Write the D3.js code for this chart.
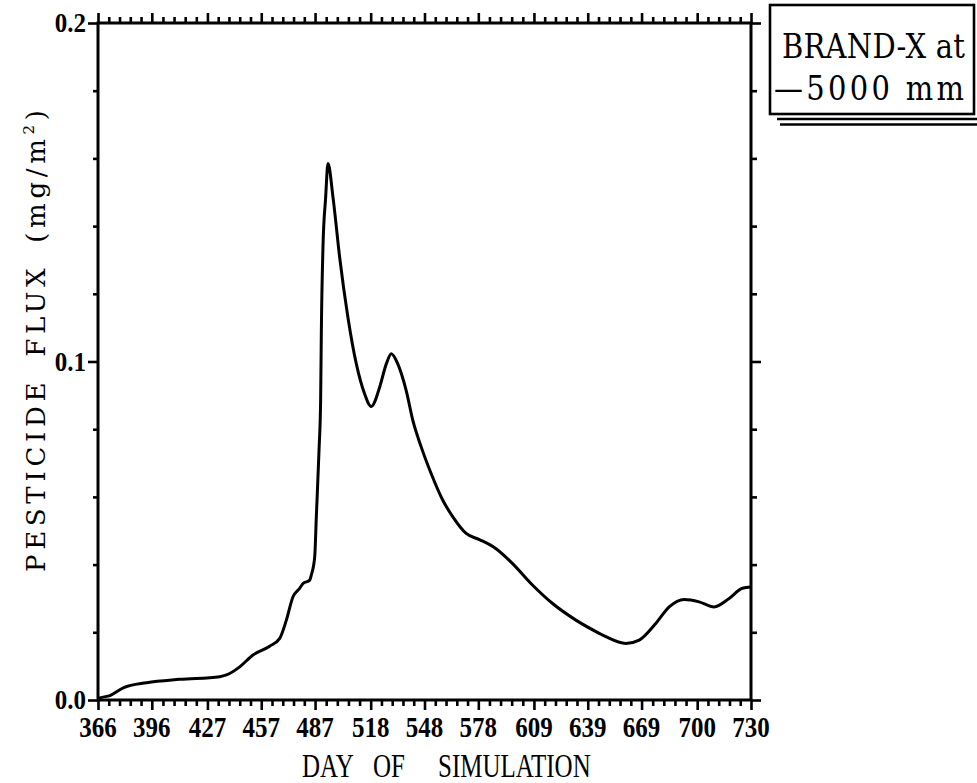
<!DOCTYPE html>
<html>
<head>
<meta charset="utf-8">
<script src="https://cdn.jsdelivr.net/npm/d3@7"></script>
<style>
  body { margin: 0; background: #fff; }
  svg text { fill: #000; }
</style>
</head>
<body>
<svg id="chart" width="977" height="783"></svg>
<script>
// Pesticide flux at 5000 mm depth, days 366-730
const days = [366, 367.1, 372.7, 380.1, 393.1, 411.6, 433.9, 437.6, 445.0, 452.4, 461.7, 467.3,
  471.0, 474.7, 478.4, 480.3, 484.0, 484.9, 486.8, 487.7, 489.2, 490.1, 490.5, 491.4, 492.9,
  494.2, 497.0, 500.7, 505.3, 510.0, 514.6, 518.3, 523.0, 526.7, 529.5, 533.1, 537.8, 541.5,
  546.2, 551.7, 558.2, 563.8, 571.2, 578.6, 587.9, 597.1, 608.3, 619.4, 632.4, 645.4, 649.1,
  660.2, 667.7, 676.9, 684.4, 692.7, 701.1, 709.4, 717.8, 725.2, 730];
const flux = [0, 0.0006, 0.0013, 0.0036, 0.0051, 0.0061, 0.0069, 0.0074, 0.0098, 0.0133, 0.0159, 0.0182,
  0.0236, 0.0305, 0.0330, 0.0344, 0.0354, 0.0369, 0.0423, 0.0541, 0.0737, 0.0885, 0.1091, 0.1337, 0.1485,
  0.1585, 0.1485, 0.1308, 0.1131, 0.0993, 0.0905, 0.0867, 0.0924, 0.0993, 0.1023, 0.0993, 0.0914, 0.0826,
  0.0747, 0.0669, 0.0590, 0.0541, 0.0492, 0.0474, 0.0447, 0.0403, 0.0339, 0.0285, 0.0236, 0.0197, 0.0187,
  0.0167, 0.0177, 0.0226, 0.0275, 0.0297, 0.0290, 0.0275, 0.0300, 0.0330, 0.0334];

const xTickValues = [366, 396, 427, 457, 487, 518, 548, 578, 609, 639, 669, 700, 730];
const xTickLabels = ["366", "396", "427", "457", "487", "518", "548", "578", "609", "639", "669", "700", "730"];
const yTickValues = [0, 0.1, 0.2];
const yTickLabels = ["0.0", "0.1", "0.2"];
const yMinorTicks = [0.02, 0.04, 0.06, 0.08, 0.12, 0.14, 0.16, 0.18];

const xTitleWords = ["DAY", "OF", "SIMULATION"];
const yTitleMain = "PESTICIDE FLUX (mg/m";
const legendLines = ["BRAND-X at", "\u20145000 mm"];

const plotLeft = 98, plotRight = 751, plotTop = 23, plotBottom = 700;
const svg = d3.select("#chart");

const x = d3.scaleLinear().domain([366, 730]).range([plotLeft, plotRight]);
const y = d3.scaleLinear().domain([0, 0.2]).range([plotBottom, plotTop]);

// four minor ticks between each pair of labelled days
const xMinorTicks = [];
for (let i = 0; i < xTickValues.length - 1; i++) {
  const a = xTickValues[i], b = xTickValues[i + 1];
  for (let k = 1; k < 5; k++) xMinorTicks.push(a + (b - a) * k / 5);
}

function styleAxis(g) {
  g.select(".domain").remove();
  g.selectAll(".tick line").attr("stroke", "#000").attr("stroke-width", 2.6);
  g.selectAll(".tick text").remove();
}

// bottom axis ticks (outside)
svg.append("g").attr("transform", `translate(0,${plotBottom})`)
  .call(d3.axisBottom(x).tickValues(xTickValues).tickSize(10)).call(styleAxis);
svg.append("g").attr("transform", `translate(0,${plotBottom})`)
  .call(d3.axisBottom(x).tickValues(xMinorTicks).tickSize(6)).call(styleAxis);
// top axis ticks (outside)
svg.append("g").attr("transform", `translate(0,${plotTop})`)
  .call(d3.axisTop(x).tickValues(xTickValues).tickSize(10)).call(styleAxis);
svg.append("g").attr("transform", `translate(0,${plotTop})`)
  .call(d3.axisTop(x).tickValues(xMinorTicks).tickSize(6)).call(styleAxis);
// left and right axis ticks (outside)
svg.append("g").attr("transform", `translate(${plotLeft},0)`)
  .call(d3.axisLeft(y).tickValues(yTickValues).tickSize(10)).call(styleAxis);
svg.append("g").attr("transform", `translate(${plotLeft},0)`)
  .call(d3.axisLeft(y).tickValues(yMinorTicks).tickSize(5)).call(styleAxis);
svg.append("g").attr("transform", `translate(${plotRight},0)`)
  .call(d3.axisRight(y).tickValues(yTickValues).tickSize(10)).call(styleAxis);
svg.append("g").attr("transform", `translate(${plotRight},0)`)
  .call(d3.axisRight(y).tickValues(yMinorTicks).tickSize(6)).call(styleAxis);

// frame
svg.append("rect")
  .attr("x", plotLeft).attr("y", plotTop)
  .attr("width", plotRight - plotLeft).attr("height", plotBottom - plotTop)
  .attr("fill", "none").attr("stroke", "#000").attr("stroke-width", 3);

// x tick labels
svg.append("g").selectAll("text").data(xTickValues).join("text")
  .attr("transform", d => `translate(${x(d)},${plotBottom + 37}) scale(1,1.2)`)
  .attr("text-anchor", "middle")
  .attr("font-family", "Liberation Serif, serif")
  .attr("font-weight", "bold")
  .attr("font-size", 25)
  .text((d, i) => xTickLabels[i]);

// y tick labels
svg.append("g").selectAll("text").data(yTickValues).join("text")
  .attr("transform", d => `translate(${plotLeft - 12},${y(d) + 9}) scale(1,1.12)`)
  .attr("text-anchor", "end")
  .attr("font-family", "Liberation Serif, serif")
  .attr("font-weight", "bold")
  .attr("font-size", 25)
  .text((d, i) => yTickLabels[i]);

// x axis title, one word at a time
const xTitleStarts = [302, 373, 438];
svg.append("g").selectAll("text").data(xTitleWords).join("text")
  .attr("transform", (d, i) => `translate(${xTitleStarts[i]},777) scale(1,1.35)`)
  .attr("font-family", "Liberation Serif, serif")
  .attr("font-size", 25)
  .text(d => d);

// y axis title
const yt = svg.append("text")
  .attr("transform", `translate(45,572) rotate(-90)`)
  .attr("font-family", "DejaVu Serif, serif")
  .attr("font-size", 26)
  .attr("textLength", 462)
  .attr("lengthAdjust", "spacing")
  .style("word-spacing", "8px");
yt.append("tspan").text(yTitleMain);
yt.append("tspan").attr("dy", -11).attr("font-size", 15).text("2");
yt.append("tspan").attr("dy", 11).text(")");

// data curve
const line = d3.line()
  .x((d, i) => x(days[i]))
  .y(d => y(d))
  .curve(d3.curveMonotoneX);
svg.append("path")
  .datum(flux)
  .attr("d", line)
  .attr("fill", "none")
  .attr("stroke", "#000")
  .attr("stroke-width", 3)
  .attr("stroke-linejoin", "round");

// legend box with double underline
const lg = svg.append("g");
lg.append("rect")
  .attr("x", 770).attr("y", 5).attr("width", 204).attr("height", 109)
  .attr("fill", "#fff").attr("stroke", "#000").attr("stroke-width", 2.6);
lg.append("line").attr("x1", 777).attr("x2", 977).attr("y1", 119).attr("y2", 119)
  .attr("stroke", "#000").attr("stroke-width", 2.6);
lg.append("line").attr("x1", 780).attr("x2", 977).attr("y1", 124.5).attr("y2", 124.5)
  .attr("stroke", "#000").attr("stroke-width", 2.6);
lg.append("text")
  .attr("transform", "translate(782,58) scale(1,1.15)")
  .attr("font-family", "DejaVu Serif, serif")
  .attr("font-size", 29)
  .attr("textLength", 183).attr("lengthAdjust", "spacing")
  .text(legendLines[0]);
lg.append("text")
  .attr("transform", "translate(774,100) scale(1,1.15)")
  .attr("font-family", "DejaVu Serif, serif")
  .attr("font-size", 29)
  .attr("textLength", 190).attr("lengthAdjust", "spacing")
  .style("white-space", "pre")
  .text(legendLines[1]);
</script>
</body>
</html>
